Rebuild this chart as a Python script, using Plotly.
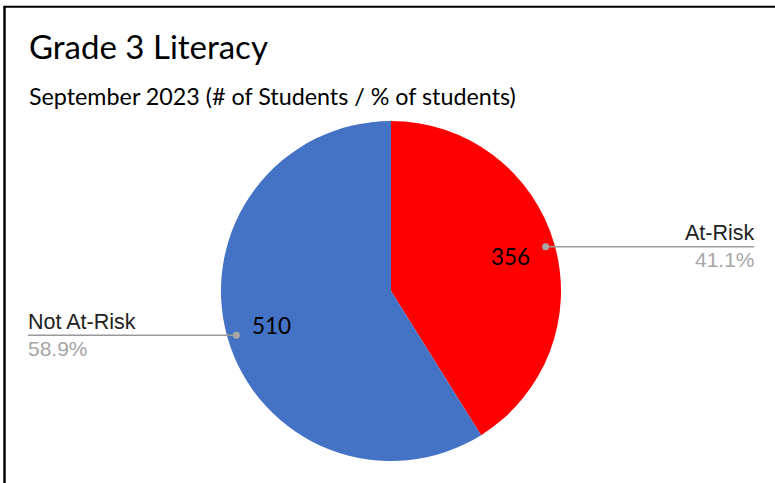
import math
import plotly.graph_objects as go

# Data
categories = ["At-Risk", "Not At-Risk"]
students = [356, 510]
colors = ["#FF0000", "#4472C4"]

title_text = "Grade 3 Literacy"
subtitle_text = "September 2023 (# of Students / % of students)"

# Canvas geometry (pixels)
W, H = 775, 483
CX, CY, R = 391, 291, 170


def px(x):
    return x / W


def py(y):
    return 1 - y / H


fig = go.Figure(
    go.Pie(
        labels=categories,
        values=students,
        marker=dict(colors=colors, line=dict(width=0)),
        sort=False,
        direction="clockwise",
        rotation=0,
        textinfo="none",
        hoverinfo="label+value+percent",
        showlegend=False,
        domain=dict(x=[px(CX - R), px(CX + R)], y=[py(CY + R), py(CY - R)]),
    )
)

annotations = []
shapes = []

# Frame (left and top edges)
shapes.append(dict(type="line", xref="paper", yref="paper",
                   x0=px(4.5), x1=px(4.5), y0=0, y1=py(6.5),
                   line=dict(color="black", width=2.5)))
shapes.append(dict(type="line", xref="paper", yref="paper",
                   x0=px(3.5), x1=1, y0=py(6.7), y1=py(6.7),
                   line=dict(color="black", width=2)))

# Title and subtitle
annotations.append(dict(text=title_text, xref="paper", yref="paper",
                        x=px(26.5), y=py(46), xanchor="left", yanchor="middle",
                        showarrow=False,
                        font=dict(family="Lato", size=33, color="#000000")))
annotations.append(dict(text=subtitle_text, xref="paper", yref="paper",
                        x=px(26.5), y=py(96), xanchor="left", yanchor="middle",
                        showarrow=False,
                        font=dict(family="Lato", size=23.3, color="#000000")))

total = sum(students)
start = 0.0
for name, val in zip(categories, students):
    frac = val / total
    mid = (start + frac / 2) * 2 * math.pi  # clockwise from 12 o'clock
    start += frac
    sx, sy = math.sin(mid), -math.cos(mid)

    # value label inside the slice
    lx, ly = CX + 0.73 * R * sx, CY + 0.73 * R * sy
    annotations.append(dict(text=str(val), xref="paper", yref="paper",
                            x=px(lx), y=py(ly), xanchor="center", yanchor="middle",
                            showarrow=False,
                            font=dict(family="Lato", size=22.5, color="#000000")))

    # leader line with dot
    dx, dy = CX + 0.946 * R * sx, CY + 0.946 * R * sy
    right = sx > 0
    ex = 754 if right else 28
    shapes.append(dict(type="line", xref="paper", yref="paper",
                       x0=px(dx), x1=px(ex), y0=py(dy), y1=py(dy),
                       line=dict(color="#999999", width=1.5)))
    shapes.append(dict(type="circle", xref="paper", yref="paper",
                       x0=px(dx - 3.5), x1=px(dx + 3.5),
                       y0=py(dy + 3.5), y1=py(dy - 3.5),
                       fillcolor="#a6a6a6", line=dict(width=0)))

    anchor = "right" if right else "left"
    tx = ex + 2.5 if right else ex - 2
    annotations.append(dict(text=name, xref="paper", yref="paper",
                            x=px(tx), y=py(dy - 13.5), xanchor=anchor, yanchor="middle",
                            showarrow=False,
                            font=dict(family="Liberation Sans", size=21.5, color="#222222")))
    annotations.append(dict(text=f"{frac * 100:.1f}%", xref="paper", yref="paper",
                            x=px(tx), y=py(dy + 13), xanchor=anchor, yanchor="middle",
                            showarrow=False,
                            font=dict(family="Liberation Sans", size=21, color="#a6a6a6")))

fig.update_layout(
    width=W, height=H,
    margin=dict(l=0, r=0, t=0, b=0),
    paper_bgcolor="white",
    plot_bgcolor="white",
    annotations=annotations,
    shapes=shapes,
)

fig.write_html("out.html", config={"displayModeBar": False})
